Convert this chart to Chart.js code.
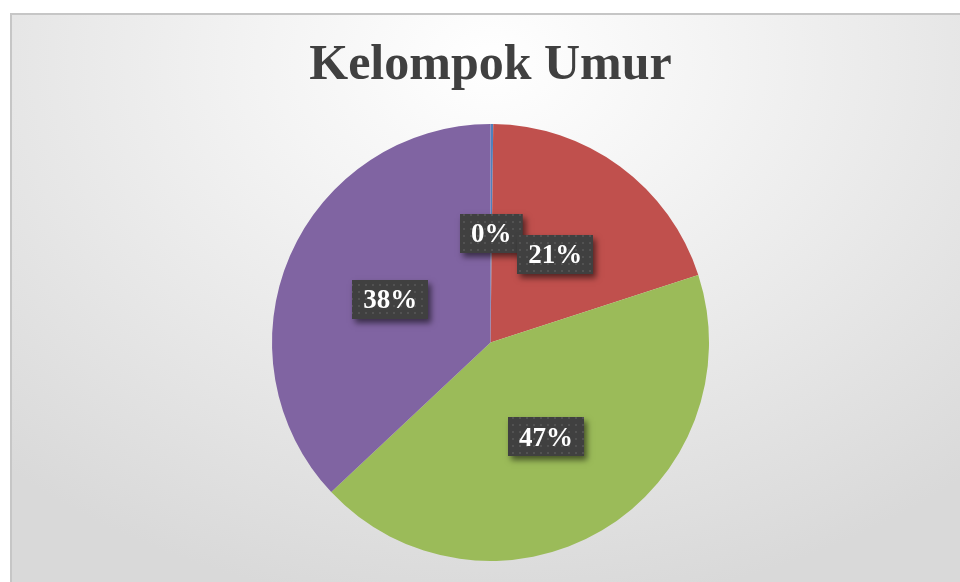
<!DOCTYPE html>
<html>
<head>
<meta charset="utf-8">
<script src="https://cdn.jsdelivr.net/npm/chart.js@4/dist/chart.umd.min.js"></script>
<style>
  html, body { margin: 0; padding: 0; background: #fff; overflow: hidden; width: 960px; height: 582px; }
  #frame {
    position: absolute; left: 10px; top: 13px; width: 960px; height: 580px;
    border: 2px solid #c6c6c6; overflow: hidden;
    background: radial-gradient(ellipse 75% 95% at 50% 8%, #ffffff 0%, #f4f4f4 30%, #d9d9d9 100%);
  }
  canvas { display: block; }
</style>
</head>
<body>
<div id="frame"><canvas id="pieChart" width="960" height="580"></canvas></div>
<script>
// data
var categories = ['Kelompok 1', 'Kelompok 2', 'Kelompok 3', 'Kelompok 4'];
var values = [0.2, 19.8, 43.0, 37.0];
var labelTexts = ['0%', '21%', '47%', '38%'];
var sliceColors = ['#4f81bd', '#c0504d', '#9bbb59', '#8064a2'];

// dotted fill for the label boxes
function makeDots() {
    var c = document.createElement('canvas');
    c.width = 7; c.height = 7;
    var g = c.getContext('2d');
    g.fillStyle = '#404040';
    g.fillRect(0, 0, 7, 7);
    g.fillStyle = '#525252';
    g.fillRect(3, 3, 2, 2);
    return c;
}

var boxLabels = {
    id: 'boxLabels',
    afterDatasetsDraw: function (chart) {
        var ctx = chart.ctx;
        var meta = chart.getDatasetMeta(0);
        var pattern = ctx.createPattern(makeDots(), 'repeat');
        ctx.save();
        ctx.font = 'bold 27px "Liberation Serif"';
        ctx.textAlign = 'center';
        ctx.textBaseline = 'middle';
        meta.data.forEach(function (arc, i) {
            var p = arc.tooltipPosition();
            var w = ctx.measureText(labelTexts[i]).width + 22;
            var h = 39;
            var x = Math.round(p.x - w / 2), y = Math.round(p.y - h / 2);
            ctx.save();
            ctx.shadowColor = 'rgba(0,0,0,0.55)';
            ctx.shadowBlur = 6;
            ctx.shadowOffsetX = 3;
            ctx.shadowOffsetY = 4;
            ctx.fillStyle = '#404040';
            ctx.fillRect(x, y, w, h);
            ctx.restore();
            ctx.fillStyle = pattern;
            ctx.fillRect(x, y, w, h);
            ctx.fillStyle = '#ffffff';
            ctx.fillText(labelTexts[i], p.x, p.y + 2);
        });
        ctx.restore();
    }
};

new Chart(document.getElementById('pieChart').getContext('2d'), {
    type: 'pie',
    data: {
        labels: categories,
        datasets: [{
            data: values,
            backgroundColor: sliceColors,
            borderWidth: 0
        }]
    },
    options: {
        responsive: false,
        animation: false,
        layout: { padding: { top: 0, bottom: 34, right: 3 } },
        plugins: {
            legend: { display: false },
            tooltip: { enabled: false },
            title: {
                display: true,
                text: 'Kelompok Umur',
                color: '#404040',
                font: { family: '"Liberation Serif"', weight: 'bold', size: 50, lineHeight: 1.2 },
                padding: { top: 21, bottom: 28 }
            }
        }
    },
    plugins: [boxLabels]
});
</script>
</body>
</html>
